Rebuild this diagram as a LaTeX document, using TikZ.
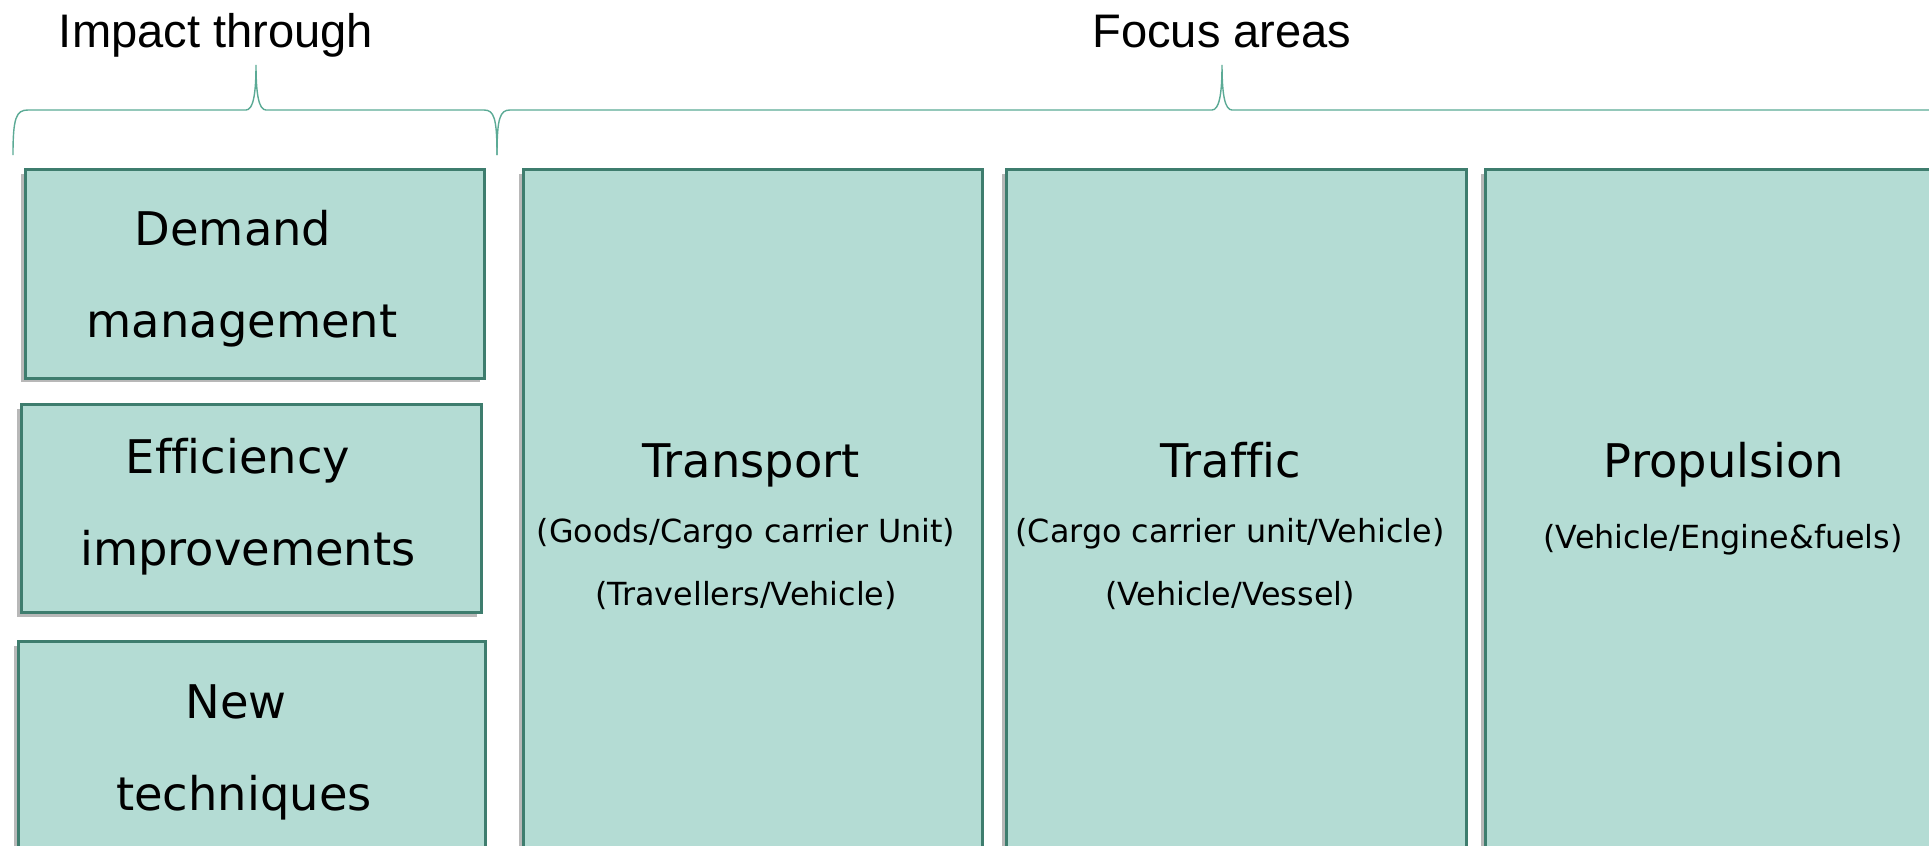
\documentclass[tikz,border=0pt]{standalone}
\usepackage{fontspec}
\setmainfont{DejaVu Sans}[Ligatures=NoCommon]
\newfontfamily\headfont{Liberation Sans}
\usetikzlibrary{positioning}
\usetikzlibrary{shadows}
\definecolor{boxfill}{HTML}{B4DCD4}
\definecolor{boxline}{HTML}{3E7D6E}
\definecolor{braceline}{HTML}{5BAA95}
\tikzset{
  area/.style={draw=boxline, line width=1.5pt, fill=boxfill, anchor=north west, inner sep=0,
    drop shadow={shadow xshift=-2.4pt, shadow yshift=-2.4pt, fill=black!80, opacity=0.35}},
  brace/.style={draw=braceline, line width=0.8pt},
  head/.style={font=\headfont\fontsize{26.8}{32}\selectfont, anchor=base, inner sep=0},
  big/.style={font=\fontsize{26.4}{32}\selectfont, anchor=base, inner sep=0},
  small/.style={font=\fontsize{18.1}{22}\selectfont, anchor=base, inner sep=0}
}

\begin{document}
\begin{tikzpicture}[x=0.02cm, y=-0.02cm]
		% Page size
		\useasboundingbox (0,0) rectangle (1929,845);
		\clip (0,0) rectangle (1929,845);
		% Draw headings
		\node[head] (impact) at (216,47) {Impact through};
		\node[head] (focus) at (1222,47) {Focus areas};
		% Draw braces
		\draw[brace] (13,155) .. controls (13,118) and (16,110) .. (28,110) -- (246,110)
			.. controls (253,110) and (256,95) .. (256,65)
			.. controls (256,95) and (259,110) .. (266,110) -- (484,110)
			.. controls (494,110) and (497,118) .. (497,155);
		\draw[brace] (497,155) .. controls (497,118) and (500,110) .. (510,110) -- (1212,110)
			.. controls (1219,110) and (1222,95) .. (1222,65)
			.. controls (1222,95) and (1225,110) .. (1232,110) -- (1960,110);
		% Draw impact boxes
		\node[area, minimum width=9.18cm, minimum height=4.18cm] (demand) at (24,168) {};
		\node[area, minimum width=9.2cm, minimum height=4.16cm] (efficiency) at (20,403) {};
		\node[area, minimum width=9.34cm, minimum height=4.4cm] (newtech) at (17,640) {};
		% Draw focus boxes
		\node[area, minimum width=9.18cm, minimum height=14cm] (transport) at (522,168) {};
		\node[area, minimum width=9.2cm, minimum height=14cm] (traffic) at (1005,168) {};
		\node[area, minimum width=9.52cm, minimum height=14cm] (propulsion) at (1484,168) {};
		% Label impact boxes
		\node[big] (demand1) at (233,245) {Demand};
		\node[big] (demand2) at (242,337) {management};
		\node[big] (efficiency1) at (238,473) {Efficiency};
		\node[big] (efficiency2) at (248,565) {improvements};
		\node[big] (newtech1) at (236,718) {New};
		\node[big] (newtech2) at (244,810) {techniques};
		% Label focus boxes
		\node[big] (transport1) at (751,477) {Transport};
		\node[small] (transport2) at (746,542) {(Goods/Cargo carrier Unit)};
		\node[small] (transport3) at (746,605) {(Travellers/Vehicle)};
		\node[big] (traffic1) at (1231,477) {Traffic};
		\node[small] (traffic2) at (1230,542) {(Cargo carrier unit/Vehicle)};
		\node[small] (traffic3) at (1230,605) {(Vehicle/Vessel)};
		\node[big] (propulsion1) at (1724,477) {Propulsion};
		\node[small] (propulsion2) at (1723,548) {(Vehicle/Engine\&fuels)};
	\end{tikzpicture}
\end{document}
